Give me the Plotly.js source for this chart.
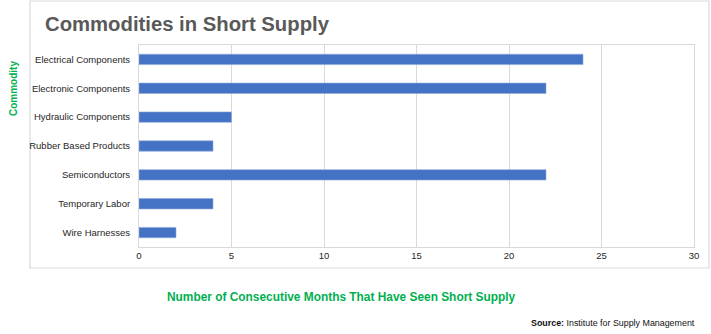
<!DOCTYPE html>
<html>
<head>
<meta charset="utf-8">
<script src="https://cdn.plot.ly/plotly-3.0.1.min.js"></script>
<style>
  html, body { margin: 0; padding: 0; background: #ffffff; }
  #chart { width: 711px; height: 334px; }
</style>
</head>
<body>
<div id="chart"></div>
<script>
// Commodities reported in short supply and the number of consecutive months
const commodities = [
  "Electrical Components",
  "Electronic Components",
  "Hydraulic Components",
  "Rubber Based Products",
  "Semiconductors",
  "Temporary Labor",
  "Wire Harnesses"
];
const monthsShort = [24, 22, 5, 4, 22, 4, 2];
const xTicks = [0, 5, 10, 15, 20, 25, 30];

const FONT = "Liberation Sans, Arial, sans-serif";
const GREEN = "#00b050";

// plot-area geometry in pixels, used to place the surrounding frame
const W = 711, H = 334;
const M = { l: 139, r: 17, t: 45, b: 87 };
const pw = W - M.l - M.r, ph = H - M.t - M.b;
const px = x => (x - M.l) / pw;
const py = y => (H - M.b - y) / ph;

const trace = {
  type: "bar",
  orientation: "h",
  y: commodities,
  x: monthsShort,
  width: 0.36,
  marker: { color: "#4472c4", line: { color: "#8faadc", width: 0.6 } },
  hoverinfo: "x+y"
};

const layout = {
  width: W,
  height: H,
  margin: M,
  paper_bgcolor: "#ffffff",
  plot_bgcolor: "#ffffff",
  font: { family: FONT, size: 9.5, color: "#262626" },
  showlegend: false,
  title: {
    text: "<b>Commodities in Short Supply</b>",
    font: { family: FONT, size: 20.3, color: "#595959" },
    xref: "container", yref: "container",
    x: 45 / W, xanchor: "left",
    y: 1 - 23.5 / H, yanchor: "middle"
  },
  xaxis: {
    range: [0, 30],
    tickvals: xTicks,
    ticktext: xTicks.map(String),
    showgrid: true,
    gridcolor: "#d9d9d9",
    gridwidth: 1,
    zeroline: false,
    showline: true,
    linecolor: "#d9d9d9",
    mirror: true,
    ticks: "",
    tickfont: { family: FONT, size: 9.5, color: "#262626" },
    fixedrange: true
  },
  yaxis: {
    autorange: "reversed",
    showgrid: false,
    zeroline: false,
    showline: true,
    linecolor: "#d9d9d9",
    mirror: true,
    ticks: "",
    ticklabelstandoff: 6,
    tickfont: { family: FONT, size: 9.5, color: "#262626" },
    fixedrange: true
  },
  shapes: [
    {
      type: "rect", xref: "paper", yref: "paper",
      x0: px(30), x1: px(709), y0: py(268), y1: py(1),
      line: { color: "#d9d9d9", width: 1.2 },
      fillcolor: "rgba(0,0,0,0)",
      layer: "below"
    }
  ],
  annotations: [
    {
      text: "<b>Commodity</b>",
      xref: "paper", yref: "paper",
      x: px(13.5), y: py(88.5),
      xanchor: "center", yanchor: "middle",
      textangle: -90,
      showarrow: false,
      font: { family: FONT, size: 10, color: GREEN }
    },
    {
      text: "<b>Number of Consecutive Months That Have Seen Short Supply</b>",
      xref: "paper", yref: "paper",
      x: px(341), y: py(297),
      xanchor: "center", yanchor: "middle",
      showarrow: false,
      font: { family: FONT, size: 11.9, color: GREEN }
    },
    {
      text: "<b>Source:</b> Institute for Supply Management",
      xref: "paper", yref: "paper",
      x: px(697), y: py(323),
      xanchor: "right", yanchor: "middle",
      showarrow: false,
      font: { family: FONT, size: 8.9, color: "#111111" }
    }
  ]
};

Plotly.newPlot("chart", [trace], layout, { displayModeBar: false, staticPlot: true });
</script>
</body>
</html>
